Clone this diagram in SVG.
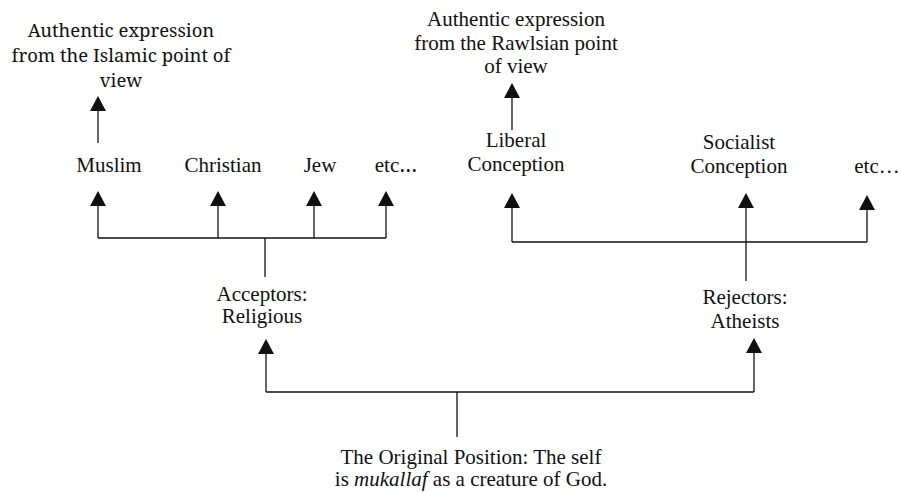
<svg xmlns="http://www.w3.org/2000/svg" width="901" height="493" viewBox="0 0 901 493">
<style>
.c{fill:none;stroke:#111;stroke-width:1.3}
</style>
<defs>
<marker id="ah" markerUnits="userSpaceOnUse" viewBox="0 -8 15 16" refX="0" refY="0" markerWidth="15" markerHeight="16" orient="auto">
<path d="M0,-8 L15,0 L0,8 Z" fill="#111"/>
</marker>
</defs>
<rect width="901" height="493" fill="#fff"/>
<g id="connectors">
<path class="c" d="M98,143 V111" marker-end="url(#ah)"/>
<path class="c" d="M98,238 H386"/>
<path class="c" d="M98,238 V206" marker-end="url(#ah)"/>
<path class="c" d="M218,238 V206" marker-end="url(#ah)"/>
<path class="c" d="M314,238 V206" marker-end="url(#ah)"/>
<path class="c" d="M386,238 V206" marker-end="url(#ah)"/>
<path class="c" d="M265,238 V277"/>
<path class="c" d="M512,130 V98" marker-end="url(#ah)"/>
<path class="c" d="M512,242 H867"/>
<path class="c" d="M512,242 V208" marker-end="url(#ah)"/>
<path class="c" d="M746,281 V208" marker-end="url(#ah)"/>
<path class="c" d="M867,242 V210" marker-end="url(#ah)"/>
<path class="c" d="M457,437 V392"/>
<path class="c" d="M266,392 H754"/>
<path class="c" d="M266,392 V354" marker-end="url(#ah)"/>
<path class="c" d="M754,392 V353" marker-end="url(#ah)"/>
</g>
<g id="islamic-view">
<text x="121" y="37" font-family="Noto Serif" font-size="18.5" fill="#111" text-anchor="middle">Authentic expression</text>
<text x="121" y="62" font-family="Noto Serif" font-size="18.5" fill="#111" text-anchor="middle">from the Islamic point of</text>
<text x="121" y="87" font-family="Noto Serif" font-size="18.5" fill="#111" text-anchor="middle">view</text>
</g>
<g id="rawlsian-view">
<text x="516" y="26" font-family="Liberation Serif" font-size="21" fill="#111" text-anchor="middle">Authentic expression</text>
<text x="516" y="50" font-family="Liberation Serif" font-size="21" fill="#111" text-anchor="middle">from the Rawlsian point</text>
<text x="516" y="73" font-family="Liberation Serif" font-size="21" fill="#111" text-anchor="middle">of view</text>
</g>
<g id="muslim"><text x="109" y="172" font-family="Liberation Serif" font-size="21" fill="#111" text-anchor="middle">Muslim</text></g>
<g id="christian"><text x="223" y="172" font-family="Liberation Serif" font-size="21" fill="#111" text-anchor="middle">Christian</text></g>
<g id="jew"><text x="320" y="172" font-family="Liberation Serif" font-size="21" fill="#111" text-anchor="middle">Jew</text></g>
<g id="etc-religious"><text x="396" y="172" font-family="Liberation Serif" font-size="21" fill="#111" text-anchor="middle">etc<tspan font-family="Noto Serif">…</tspan></text></g>
<g id="liberal">
<text x="516" y="147" font-family="Liberation Serif" font-size="21" fill="#111" text-anchor="middle">Liberal</text>
<text x="516" y="171" font-family="Liberation Serif" font-size="21" fill="#111" text-anchor="middle">Conception</text>
</g>
<g id="socialist">
<text x="739" y="149" font-family="Liberation Serif" font-size="21" fill="#111" text-anchor="middle">Socialist</text>
<text x="739" y="173" font-family="Liberation Serif" font-size="21" fill="#111" text-anchor="middle">Conception</text>
</g>
<g id="etc-atheist"><text x="877" y="173" font-family="Liberation Serif" font-size="21" fill="#111" text-anchor="middle">etc…</text></g>
<g id="acceptors">
<text x="262" y="301" font-family="Liberation Serif" font-size="21" fill="#111" text-anchor="middle">Acceptors:</text>
<text x="262" y="323" font-family="Liberation Serif" font-size="21" fill="#111" text-anchor="middle">Religious</text>
</g>
<g id="rejectors">
<text x="745" y="304" font-family="Liberation Serif" font-size="21" fill="#111" text-anchor="middle">Rejectors:</text>
<text x="745" y="328" font-family="Liberation Serif" font-size="21" fill="#111" text-anchor="middle">Atheists</text>
</g>
<g id="original-position">
<text x="471" y="464" font-family="Liberation Serif" font-size="21" fill="#111" text-anchor="middle">The Original Position: The self</text>
<text x="471" y="486" font-family="Liberation Serif" font-size="21" fill="#111" text-anchor="middle">is <tspan font-style="italic">mukallaf</tspan> as a creature of God.</text>
</g>
</svg>
